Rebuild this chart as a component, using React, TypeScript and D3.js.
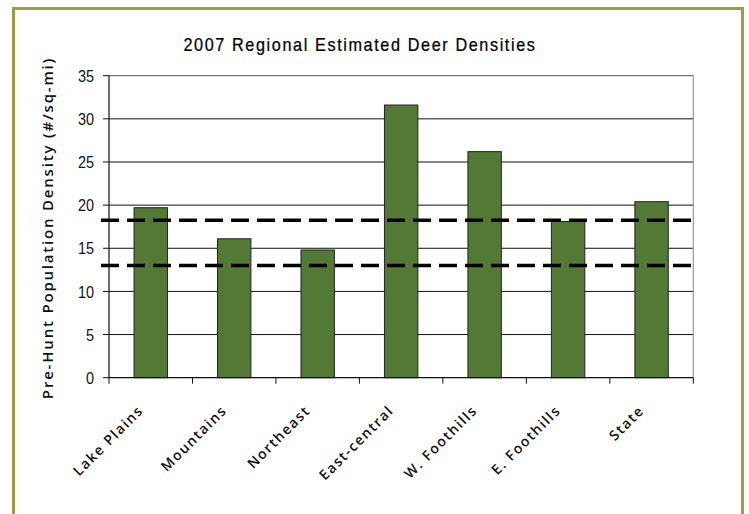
import React from "react";
import * as d3 from "d3";

const categories = ["Lake Plains", "Mountains", "Northeast", "East-central", "W. Foothills", "E. Foothills", "State"];
const densities = [19.7, 16.1, 14.8, 31.6, 26.2, 18.1, 20.4];
const thresholds = [18.25, 13.0];
const yTicks = [0, 5, 10, 15, 20, 25, 30, 35];
const title = "2007 Regional Estimated Deer Densities";
const yLabel = "Pre-Hunt Population Density (#/sq-mi)";

const W = 749, H = 514;
const left = 109, right = 693.3, top = 75.7, bottom = 377.7;

export default function App() {
  const x = d3.scaleBand<string>().domain(categories).range([left, right]).paddingInner(0.6).paddingOuter(0.3);
  const xb = d3.scaleBand<string>().domain(categories).range([left, right]);
  const y = d3.scaleLinear().domain([0, 35]).range([bottom, top]);
  const base = "'Liberation Sans', Arial, sans-serif";
  const sans = "'Open Sans', 'DejaVu Sans', sans-serif";
  return (
    <svg width={W} height={H} style={{ position: "absolute", left: 0, top: 0, background: "#fff" }}>
      <rect x={13.5} y={8.5} width={729} height={520} fill="#fff" stroke="#a39a45" strokeWidth={3} />
      <text transform="translate(360,51) scale(0.9,1)" textAnchor="middle" fontFamily={base} fontSize={18} letterSpacing={1.8} fill="#000" stroke="#000" strokeWidth={0.25}>{title}</text>
      {yTicks.map((t) => (
        <g key={t}>
          {t > 0 && t < 35 && <line x1={left} x2={right} y1={y(t)} y2={y(t)} stroke="#111" strokeWidth={1} />}
          <line x1={left - 6} x2={left} y1={y(t)} y2={y(t)} stroke="#111" strokeWidth={1} />
          <text transform={`translate(94,${y(t)}) scale(0.85,1)`} dy="0.36em" textAnchor="end" fontFamily={base} fontSize={17} fill="#111">{t}</text>
        </g>
      ))}
      <line x1={left} x2={right} y1={top} y2={top} stroke="#777" strokeWidth={1.2} />
      <line x1={right} x2={right} y1={top} y2={bottom} stroke="#999" strokeWidth={1.2} />
      {categories.map((c, i) => (
        <rect key={c} x={x(c)} y={y(densities[i])} width={x.bandwidth()} height={bottom - y(densities[i])} fill="#527a34" stroke="#222" strokeWidth={1} />
      ))}
      <line x1={left} x2={left} y1={top} y2={bottom} stroke="#111" strokeWidth={1.2} />
      <line x1={left} x2={right} y1={bottom} y2={bottom} stroke="#111" strokeWidth={1.2} />
      {categories.concat(["end"]).map((c, i) => {
        const px = left + i * xb.step();
        return <line key={"t" + i} x1={px} x2={px} y1={bottom} y2={bottom + 6} stroke="#111" strokeWidth={1} />;
      })}
      {thresholds.map((t) => (
        <line key={t} x1={101} x2={692} y1={y(t)} y2={y(t)} stroke="#000" strokeWidth={3.5} strokeDasharray="18 8" />
      ))}
      {categories.map((c) => {
        const cx = (x(c) as number) + x.bandwidth() / 2;
        return (
          <text key={"l" + c} transform={`translate(${cx - 10},${408}) rotate(-45)`} textAnchor="end" dy="0.35em" fontFamily={sans} fontSize={14} fontWeight={600} letterSpacing={1.5} fill="#111">{c}</text>
        );
      })}
      <text transform={`translate(48,228) rotate(-90)`} textAnchor="middle" dy="0.35em" fontFamily={sans} fontSize={15} fontWeight={600} letterSpacing={1.8} fill="#111">{yLabel}</text>
    </svg>
  );
}
